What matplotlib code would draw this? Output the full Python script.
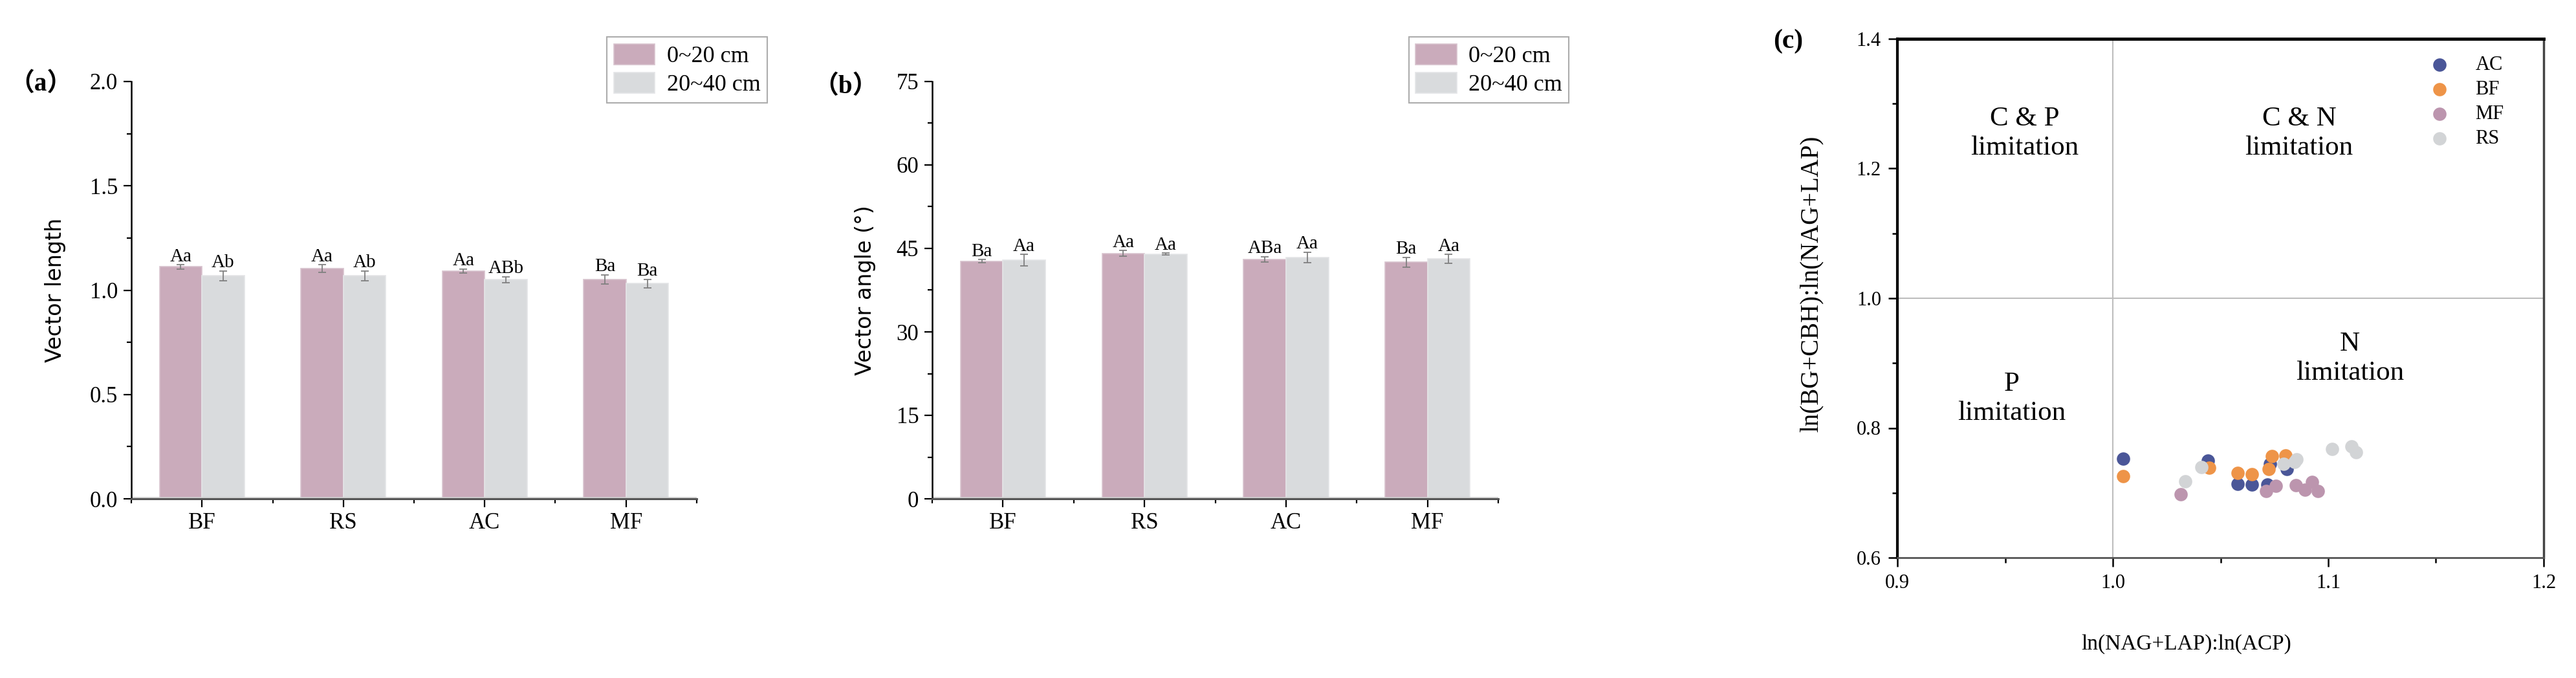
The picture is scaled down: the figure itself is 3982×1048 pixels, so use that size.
import numpy as np
import matplotlib.pyplot as plt
from matplotlib.ticker import MultipleLocator, FixedLocator, FormatStrFormatter

plt.rcParams['font.family'] = ['Liberation Serif', 'Noto Sans CJK SC']
plt.rcParams['axes.unicode_minus'] = False

# ---- data ----
sites = ['BF', 'RS', 'AC', 'MF']
depths = ['0~20 cm', '20~40 cm']

length_top = [1.112, 1.103, 1.092, 1.051]
length_top_err = [0.010, 0.018, 0.009, 0.022]
length_sub = [1.069, 1.069, 1.051, 1.032]
length_sub_err = [0.024, 0.024, 0.014, 0.020]
length_top_sig = ['Aa', 'Aa', 'Aa', 'Ba']
length_sub_sig = ['Ab', 'Ab', 'ABb', 'Ba']

angle_top = [42.7, 44.1, 43.0, 42.5]
angle_top_err = [0.3, 0.5, 0.5, 0.9]
angle_sub = [42.9, 44.0, 43.4, 43.1]
angle_sub_err = [1.0, 0.15, 0.95, 0.8]
angle_top_sig = ['Ba', 'Aa', 'ABa', 'Ba']
angle_sub_sig = ['Aa', 'Aa', 'Aa', 'Aa']

groups = ['AC', 'BF', 'MF', 'RS']
ac_x = [1.0048, 1.0441, 1.0580, 1.0646, 1.0718, 1.0730, 1.0808]
ac_y = [0.753, 0.750, 0.714, 0.713, 0.713, 0.745, 0.737]
bf_x = [1.0048, 1.0447, 1.0580, 1.0646, 1.0738, 1.0723, 1.0803]
bf_y = [0.726, 0.739, 0.731, 0.729, 0.757, 0.737, 0.758]
mf_x = [1.0315, 1.0711, 1.0758, 1.0851, 1.0893, 1.0925, 1.0953]
mf_y = [0.698, 0.703, 0.711, 0.712, 0.705, 0.717, 0.703]
rs_x = [1.0337, 1.0411, 1.0793, 1.0843, 1.0853, 1.1018, 1.1108, 1.1128]
rs_y = [0.718, 0.740, 0.745, 0.748, 0.752, 0.768, 0.772, 0.763]

pink = '#CAABBB'
grey = '#D9DBDD'
group_colors = ['#4A5698', '#EE9448', '#BC95AE', '#D2D4D6']

W, H = 3982, 1048
fig = plt.figure(figsize=(W / 100, H / 100), dpi=100)


def px_axes(left, top, right, bottom):
    return fig.add_axes([left / W, 1 - bottom / H, (right - left) / W, (bottom - top) / H])


def bar_panel(ax, top, top_err, sub, sub_err, top_sig, sub_sig, ymax, step, fmt, ylabel, lab_x):
    x = np.arange(len(sites))
    w = 0.3
    ax.bar(x - w / 2, top, w, color=pink, edgecolor='#D8C3CE', linewidth=1.2, label=depths[0], zorder=2)
    ax.bar(x + w / 2, sub, w, color=grey, edgecolor='#E4E5E7', linewidth=1.2, label=depths[1], zorder=2)
    for xs, v, e in [(x - w / 2, top, top_err), (x + w / 2, sub, sub_err)]:
        ax.errorbar(xs, v, yerr=e, fmt='none', ecolor='#808080', elinewidth=1.3,
                    capsize=4, capthick=1.3, zorder=3)
    for xs, v, e, s in [(x - w / 2, top, top_err, top_sig), (x + w / 2, sub, sub_err, sub_sig)]:
        for xi, vi, ei, si in zip(xs, v, e, s):
            ax.annotate(si, (xi, vi + ei), xytext=(0, 4), textcoords='offset points',
                        ha='center', va='baseline', fontsize=21)
    ax.axhline(0, color='#D0D0D0', lw=4, zorder=2.4)
    ax.set_xlim(-0.5, 3.5)
    ax.set_ylim(0, ymax)
    ax.set_xticks(x)
    ax.set_xticklabels(sites)
    ax.xaxis.set_minor_locator(FixedLocator([-0.5, 0.5, 1.5, 2.5, 3.5]))
    ax.yaxis.set_major_locator(MultipleLocator(step))
    ax.yaxis.set_minor_locator(MultipleLocator(step / 2))
    ax.yaxis.set_major_formatter(FormatStrFormatter(fmt))
    ax.tick_params(which='major', direction='out', length=9, width=1.6, labelsize=25, pad=6)
    ax.tick_params(which='minor', direction='out', length=5, width=1.6)
    for s in ['top', 'right']:
        ax.spines[s].set_visible(False)
    ax.spines['left'].set_linewidth(1.8)
    ax.spines['bottom'].set_linewidth(2.2)
    ax.spines['bottom'].set_color('#555555')
    ax.spines['bottom'].set_zorder(2.5)
    ax.set_ylabel(ylabel, family='DejaVu Sans', fontsize=24)
    ax.yaxis.set_label_coords(lab_x, 0.5)
    leg = ax.legend(loc='upper right', bbox_to_anchor=(1.125, 1.107), frameon=True, fancybox=False,
                    edgecolor='#999999', fontsize=26, handlelength=1.75, handleheight=1.0,
                    handletextpad=0.5, labelspacing=0.2, borderpad=0.3, borderaxespad=0)
    leg.get_frame().set_linewidth(1.5)


ax1 = px_axes(203, 126, 1077, 771)
bar_panel(ax1, length_top, length_top_err, length_sub, length_sub_err,
          length_top_sig, length_sub_sig, 2.0, 0.5, '%.1f', 'Vector length', -0.116)

ax2 = px_axes(1441, 126, 2316, 771)
bar_panel(ax2, angle_top, angle_top_err, angle_sub, angle_sub_err,
          angle_top_sig, angle_sub_sig, 75, 15, '%d', 'Vector angle (°)', -0.10)

fig.text(63 / W, 1 - 130 / H, '（a）', fontsize=28, fontweight='bold', ha='center', va='center')
fig.text(1307 / W, 1 - 134 / H, '（b）', fontsize=28, fontweight='bold', ha='center', va='center')

# ---- panel c ----
ax3 = px_axes(2933, 60, 3932, 862)
ax3.axvline(1.0, color='#BDBDBD', lw=1.5, zorder=0)
ax3.axhline(1.0, color='#BDBDBD', lw=1.5, zorder=0)
for g, xs, ys, c in zip(groups, [ac_x, bf_x, mf_x, rs_x], [ac_y, bf_y, mf_y, rs_y], group_colors):
    ax3.scatter(xs, ys, s=220, color=c, linewidths=0, label=g, zorder=3)
ax3.set_xlim(0.9, 1.2)
ax3.set_ylim(0.6, 1.4)
ax3.xaxis.set_major_locator(MultipleLocator(0.1))
ax3.xaxis.set_minor_locator(MultipleLocator(0.05))
ax3.yaxis.set_major_locator(MultipleLocator(0.2))
ax3.yaxis.set_minor_locator(MultipleLocator(0.1))
ax3.xaxis.set_major_formatter(FormatStrFormatter('%.1f'))
ax3.yaxis.set_major_formatter(FormatStrFormatter('%.1f'))
ax3.tick_params(which='major', direction='out', length=10, width=1.8, labelsize=22, pad=8)
ax3.tick_params(which='minor', direction='out', length=6, width=1.8)
ax3.spines['top'].set_linewidth(3.5)
ax3.spines['left'].set_linewidth(3.0)
ax3.spines['bottom'].set_linewidth(2.0)
ax3.spines['bottom'].set_color('#555555')
ax3.spines['right'].set_linewidth(2.5)
ax3.spines['right'].set_color('#444444')

ax3.text(0.959, 1.254, 'C & P\nlimitation', fontsize=31, ha='center', va='center', linespacing=1.2)
ax3.text(1.0865, 1.254, 'C & N\nlimitation', fontsize=31, ha='center', va='center', linespacing=1.2)
ax3.text(0.953, 0.845, 'P\nlimitation', fontsize=31, ha='center', va='center', linespacing=1.2)
ax3.text(1.110, 0.907, 'N\nlimitation', fontsize=31, ha='center', va='center', linespacing=1.2)

ax3.set_xlabel('ln(NAG+LAP):ln(ACP)', fontsize=24)
ax3.xaxis.set_label_coords(0.447, -0.167)
ax3.xaxis.label.set_va('center')
ax3.set_ylabel('ln(BG+CBH):ln(NAG+LAP)', fontsize=28)
ax3.yaxis.set_label_coords(-0.114, 0.528)

ax3.legend(loc='upper left', bbox_to_anchor=(0.824, 0.968), frameon=False, fontsize=22,
           handlelength=1.0, handletextpad=1.3, labelspacing=0.3, borderpad=0, borderaxespad=0,
           scatterpoints=1)

fig.text(2764 / W, 1 - 64 / H, '(c)', fontsize=30, fontweight='bold', ha='center', va='center')

fig.savefig('out.png', dpi=100)
